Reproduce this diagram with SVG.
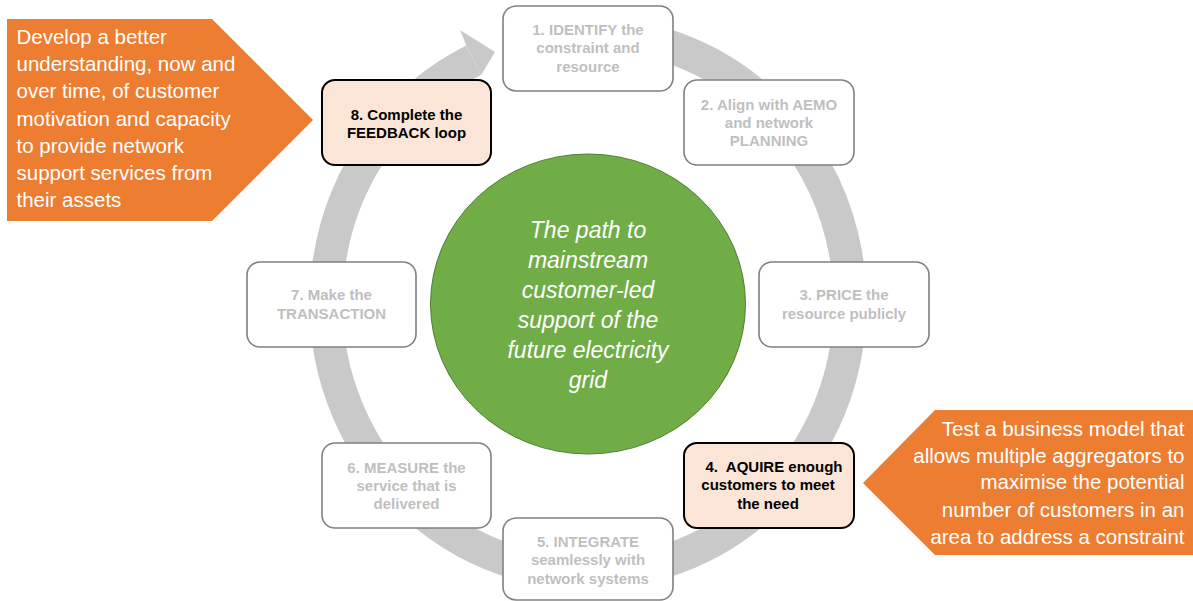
<svg xmlns="http://www.w3.org/2000/svg" width="1193" height="601" viewBox="0 0 1193 601">
<style>
.box{fill:#ffffff;stroke:#808080;stroke-width:1.6}
.hl{fill:#fbe5d6;stroke:#000000;stroke-width:2}
.bt{font-family:"Liberation Sans",Arial,sans-serif;font-weight:bold;font-size:15px;text-anchor:middle;fill:#bfbfbf}
.ht{fill:#000000}
.ot{font-family:"Liberation Sans",Arial,sans-serif;font-size:20.5px;fill:#ffffff}
.ct{font-family:"Liberation Sans",Arial,sans-serif;font-style:italic;font-size:23px;fill:#ffffff;text-anchor:middle}
</style>
<rect width="1193" height="601" fill="#ffffff"/>
<g id="connectors">
<path d="M 552.1 35.7 A 262 270 0 1 1 473.6 60.3" fill="none" stroke="#c9c9c9" stroke-width="33"/>
<polygon points="466.3,45.4 460,30 495,52 481,75.2" fill="#c9c9c9"/>
</g>
<g id="center">
<ellipse cx="588" cy="304" rx="157.5" ry="150" fill="#70ad47" stroke="#507e32" stroke-width="1"/>
<text class="ct"><tspan x="588" y="238">The path to</tspan><tspan x="588" y="268">mainstream</tspan><tspan x="588" y="298">customer-led</tspan><tspan x="588" y="328">support of the</tspan><tspan x="588" y="358">future electricity</tspan><tspan x="588" y="388">grid</tspan></text>
</g>
<g id="node1">
<rect class="box" x="503" y="6" width="170" height="85" rx="13"/>
<text class="bt"><tspan x="588" y="34.5">1. IDENTIFY the</tspan><tspan x="588" y="53">constraint and</tspan><tspan x="588" y="71.5">resource</tspan></text>
</g>
<g id="node2">
<rect class="box" x="684" y="80" width="170" height="85" rx="13"/>
<text class="bt"><tspan x="769" y="110">2. Align with AEMO</tspan><tspan x="769" y="128">and network</tspan><tspan x="769" y="146">PLANNING</tspan></text>
</g>
<g id="node3">
<rect class="box" x="759" y="262" width="170" height="85" rx="13"/>
<text class="bt"><tspan x="844" y="300">3. PRICE the</tspan><tspan x="844" y="319">resource publicly</tspan></text>
</g>
<g id="node4">
<rect class="hl" x="684" y="443" width="170" height="85" rx="13"/>
<text class="bt ht"><tspan x="774" y="472">4.&#160; AQUIRE enough</tspan><tspan x="768" y="490">customers to meet</tspan><tspan x="768" y="508.5">the need</tspan></text>
</g>
<g id="node5">
<rect class="box" x="503" y="518" width="170" height="82" rx="13"/>
<text class="bt"><tspan x="588" y="547">5. INTEGRATE</tspan><tspan x="588" y="565">seamlessly with</tspan><tspan x="588" y="583.5">network systems</tspan></text>
</g>
<g id="node6">
<rect class="box" x="322" y="443" width="169" height="85" rx="13"/>
<text class="bt"><tspan x="406.5" y="473">6. MEASURE the</tspan><tspan x="406.5" y="490.5">service that is</tspan><tspan x="406.5" y="508.5">delivered</tspan></text>
</g>
<g id="node7">
<rect class="box" x="247" y="262" width="169" height="85" rx="13"/>
<text class="bt"><tspan x="331.5" y="300">7. Make the</tspan><tspan x="331.5" y="319">TRANSACTION</tspan></text>
</g>
<g id="node8">
<rect class="hl" x="322" y="80" width="169" height="85" rx="13"/>
<text class="bt ht"><tspan x="406.5" y="119.5">8. Complete the</tspan><tspan x="406.5" y="138">FEEDBACK loop</tspan></text>
</g>
<g id="callout-left">
<polygon points="7,19 212,19 313,120 212,221 7,221" fill="#ed7d31"/>
<text class="ot"><tspan x="16.5" y="44">Develop a better</tspan><tspan x="16.5" y="70.5">understanding, now and</tspan><tspan x="16.5" y="98">over time, of customer</tspan><tspan x="16.5" y="125.5">motivation and capacity</tspan><tspan x="16.5" y="152.5">to provide network</tspan><tspan x="16.5" y="180">support services from</tspan><tspan x="16.5" y="206.5">their assets</tspan></text>
</g>
<g id="callout-right">
<polygon points="863,483 935,410 1193,410 1193,555 935,555" fill="#ed7d31"/>
<text class="ot" text-anchor="end"><tspan x="1184.5" y="435.5">Test a business model that</tspan><tspan x="1184.5" y="463">allows multiple aggregators to</tspan><tspan x="1184.5" y="489">maximise the potential</tspan><tspan x="1184.5" y="517">number of customers in an</tspan><tspan x="1184.5" y="544">area to address a constraint</tspan></text>
</g>
</svg>
